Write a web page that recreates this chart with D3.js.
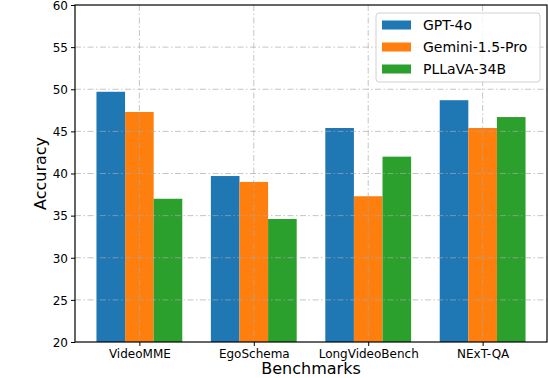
<!DOCTYPE html>
<html><head><meta charset="utf-8">
<script src="https://cdn.jsdelivr.net/npm/d3@7"></script>
<style>body{margin:0;background:#fff}svg{display:block}text{font-family:"DejaVu Sans",sans-serif}</style>
</head><body><svg id="c" width="548" height="378"></svg>
<script>
const categories = ["VideoMME", "EgoSchema", "LongVideoBench", "NExT-QA"];
const seriesNames = ["GPT-4o", "Gemini-1.5-Pro", "PLLaVA-34B"];
const gpt4o = [49.7, 39.7, 45.4, 48.7];
const gemini = [47.3, 39.0, 37.3, 45.4];
const pllava = [37.0, 34.6, 42.0, 46.7];
const yTicks = [20, 25, 30, 35, 40, 45, 50, 55, 60];
const colors = ["#1f77b4", "#ff7f0e", "#2ca02c"];
const series = [gpt4o, gemini, pllava];

const svg = d3.select("#c");
const L = 75, R = 547, T = 5, B = 342;
const x = d3.scaleLinear().domain([-0.5625, categories.length - 1 + 0.5625]).range([L, R]);
const y = d3.scaleLinear().domain([20, 60]).range([B, T]);
const barW = 0.25;
const dash = "6,2.5,1.5,2.5";

// bars
series.forEach((vals, s) => {
  svg.append("g").selectAll("rect").data(vals).join("rect")
    .attr("x", (d, i) => x(i + (s - 1) * barW - barW / 2))
    .attr("width", x(barW) - x(0))
    .attr("y", d => y(d)).attr("height", d => y(20) - y(d))
    .attr("fill", colors[s]);
});

// grid (above bars, semi-transparent)
svg.append("g").selectAll("line").data(categories).join("line")
  .attr("x1", (d, i) => x(i)).attr("x2", (d, i) => x(i)).attr("y1", T).attr("y2", B)
  .attr("stroke", "#a8a8a8").attr("stroke-opacity", 0.75).attr("stroke-width", 0.9).attr("stroke-dasharray", dash);
svg.append("g").selectAll("line").data(yTicks.slice(1, -1)).join("line")
  .attr("x1", L).attr("x2", R).attr("y1", d => y(d)).attr("y2", d => y(d))
  .attr("stroke", "#a8a8a8").attr("stroke-opacity", 0.75).attr("stroke-width", 0.9).attr("stroke-dasharray", dash);

// axes
const xAxis = d3.axisBottom(x).tickValues(d3.range(categories.length)).tickFormat(i => categories[i]).tickSize(4).tickPadding(3);
const yAxis = d3.axisLeft(y).tickValues(yTicks).tickFormat(d3.format("d")).tickSize(4).tickPadding(3);
const xa = svg.append("g").attr("transform", `translate(0,${B})`).call(xAxis);
const ya = svg.append("g").attr("transform", `translate(${L},0)`).call(yAxis);
[xa, ya].forEach(a => {
  a.attr("font-size", 12).attr("font-family", "DejaVu Sans");
  a.select(".domain").remove();
  a.selectAll("text").style("font-size", "12px").attr("fill", "#000");
  a.selectAll("line").attr("stroke", "#000");
});
ya.selectAll("text").attr("dy", "0.36em");

// frame
svg.append("rect").attr("x", L).attr("y", T).attr("width", R - L).attr("height", B - T)
  .attr("fill", "none").attr("stroke", "#000").attr("stroke-width", 1.2);

// axis labels
svg.append("text").attr("x", (L + R) / 2).attr("y", 374).attr("text-anchor", "middle")
  .style("font-size", "16px").text("Benchmarks");
svg.append("text").attr("transform", `translate(46,${(T + B) / 2}) rotate(-90)`).attr("text-anchor", "middle")
  .style("font-size", "16px").text("Accuracy");

// legend
const lg = svg.append("g");
lg.append("rect").attr("x", 376).attr("y", 13).attr("width", 164).attr("height", 69).attr("rx", 3)
  .attr("fill", "#fff").attr("fill-opacity", 0.8).attr("stroke", "#d0d0d0").attr("stroke-width", 1);
seriesNames.forEach((n, i) => {
  const cy = 25 + i * 22;
  lg.append("rect").attr("x", 382).attr("y", cy - 4.5).attr("width", 29).attr("height", 9).attr("fill", colors[i]);
  lg.append("text").attr("x", 423).attr("y", cy).attr("dy", "0.36em").style("font-size", "14px").text(n);
});
</script></body></html>
